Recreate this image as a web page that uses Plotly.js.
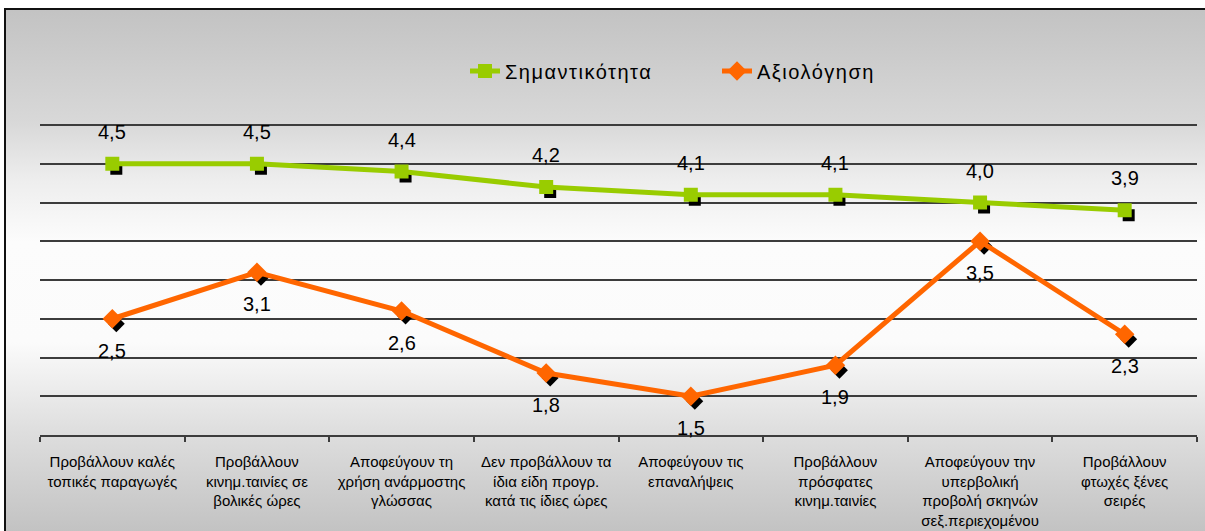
<!DOCTYPE html>
<html>
<head>
<meta charset="utf-8">
<script src="https://cdn.plot.ly/plotly-3.0.1.min.js"></script>
<style>
html,body{margin:0;padding:0;background:#fff;overflow:hidden;width:1205px;height:531px}
#frame{position:absolute;left:4px;top:8px;width:1230px;height:560px;border:2px solid #111;
  background:linear-gradient(to bottom,#c3c3c3 0px,#d8d8d8 112px,#eeeeee 172px,#fcfcfc 232px,#fbfbfb 332px,#dedede 422px,#c2c2c2 523px,#c0c0c0 560px);}
#chart{position:absolute;left:0;top:0;width:1205px;height:531px}
#chart .legendtext{letter-spacing:1.5px}
#chart g.xtick text{letter-spacing:1px}
</style>
</head>
<body>
<div id="frame"></div>
<div id="chart"></div>
<script>
// ---- data ----
const categories = [
  "Προβάλλουν καλές<br>τοπικές παραγωγές",
  "Προβάλλουν<br>κινημ.ταινίες σε<br>βολικές ώρες",
  "Αποφεύγουν τη<br>χρήση ανάρμοστης<br>γλώσσας",
  "Δεν προβάλλουν τα<br>ίδια είδη προγρ.<br>κατά τις ίδιες ώρες",
  "Αποφεύγουν τις<br>επαναλήψεις",
  "Προβάλλουν<br>πρόσφατες<br>κινημ.ταινίες",
  "Αποφεύγουν την<br>υπερβολική<br>προβολή σκηνών<br>σεξ.περιεχομένου",
  "Προβάλλουν<br>φτωχές ξένες<br>σειρές"
];
const importanceName = "Σημαντικότητα";
const importance = [4.5, 4.5, 4.4, 4.2, 4.1, 4.1, 4.0, 3.9];
const ratingName = "Αξιολόγηση";
const rating = [2.5, 3.1, 2.6, 1.8, 1.5, 1.9, 3.5, 2.3];

// ---- styling ----
const W = 1205, H = 531;
const gridTopPx = 125, axisPx = 435;        // pixel rows of y=5 and y=1
const M = {l: 40, r: 8, t: 121, b: H - axisPx};
const plotW = W - M.l - M.r;
const yMin = 1, yMax = 5;
const pxPerUnit = (axisPx - gridTopPx) / (yMax - yMin);
const yTop = yMax + (gridTopPx - M.t) / pxPerUnit;
const nCat = categories.length;
const shadowDxPx = 4, shadowDyPx = 5;
const dx = shadowDxPx / (plotW / nCat);
const dy = shadowDyPx / pxPerUnit;
const green = "#99CC00", orange = "#FF6600", gridC = "#3c3c3c";
const fmt = v => v.toFixed(1).replace(".", ",");
const arial = "Liberation Sans, Arial, sans-serif";

const traces = [
  // shadows (main subplot, drawn first)
  {x: categories, y: importance, type: "scatter", mode: "markers", xaxis: "x", yaxis: "y",
   marker: {symbol: "square", size: 12, color: "#000"}, showlegend: false, hoverinfo: "skip"},
  {x: categories, y: rating, type: "scatter", mode: "markers", xaxis: "x", yaxis: "y",
   marker: {symbol: "diamond", size: 13, color: "#000"}, showlegend: false, hoverinfo: "skip"},
  // real series
  {x: categories, y: importance, name: importanceName, type: "scatter", mode: "lines+markers",
   xaxis: "x2", yaxis: "y2",
   line: {color: green, width: 5}, marker: {symbol: "square", size: 14, color: green}},
  {x: categories, y: rating, name: ratingName, type: "scatter", mode: "lines+markers",
   xaxis: "x2", yaxis: "y2",
   line: {color: orange, width: 5}, marker: {symbol: "diamond", size: 15, color: orange}}
];

const labelFont = {family: arial, size: 20, color: "#000"};
const annotations = [];
importance.forEach((v, i) => annotations.push({xref: "x2", yref: "y2", x: categories[i], y: v,
  text: fmt(v), showarrow: false, yshift: 32, font: labelFont}));
rating.forEach((v, i) => annotations.push({xref: "x2", yref: "y2", x: categories[i], y: v,
  text: fmt(v), showarrow: false, yshift: -32, font: labelFont}));

const legendLeftPx = 465;
const layout = {
  width: W, height: H,
  margin: M,
  paper_bgcolor: "rgba(0,0,0,0)",
  plot_bgcolor: "rgba(0,0,0,0)",
  showlegend: true,
  legend: {orientation: "h", x: (legendLeftPx - M.l) / plotW, xanchor: "left",
    y: (axisPx - 71) / (axisPx - M.t), yanchor: "middle",
    font: {family: arial, size: 20, color: "#000"},
    bgcolor: "rgba(0,0,0,0)", entrywidth: 207, entrywidthmode: "pixels"},
  xaxis: {type: "category", range: [-0.5 - dx, nCat - 0.5 - dx], visible: false, fixedrange: true},
  yaxis: {range: [yMin + dy, yTop + dy], visible: false, fixedrange: true},
  xaxis2: {type: "category", overlaying: "x", anchor: "y", range: [-0.5, nCat - 0.5],
    showline: true, linecolor: gridC, linewidth: 2, showgrid: false, zeroline: false,
    ticks: "outside", tickson: "boundaries", ticklen: 5, tickwidth: 2, tickcolor: gridC,
    tickangle: 0, ticklabelstandoff: 12,
    tickfont: {family: arial, size: 15, color: "#000"}},
  yaxis2: {overlaying: "y", anchor: "x", range: [yMin, yTop], dtick: 0.5, tick0: 0,
    showgrid: true, gridcolor: gridC, gridwidth: 2, zeroline: false, showline: false,
    showticklabels: false, ticks: ""},
  annotations: annotations
};

Plotly.newPlot("chart", traces, layout, {displayModeBar: false, staticPlot: true});
</script>
</body>
</html>
